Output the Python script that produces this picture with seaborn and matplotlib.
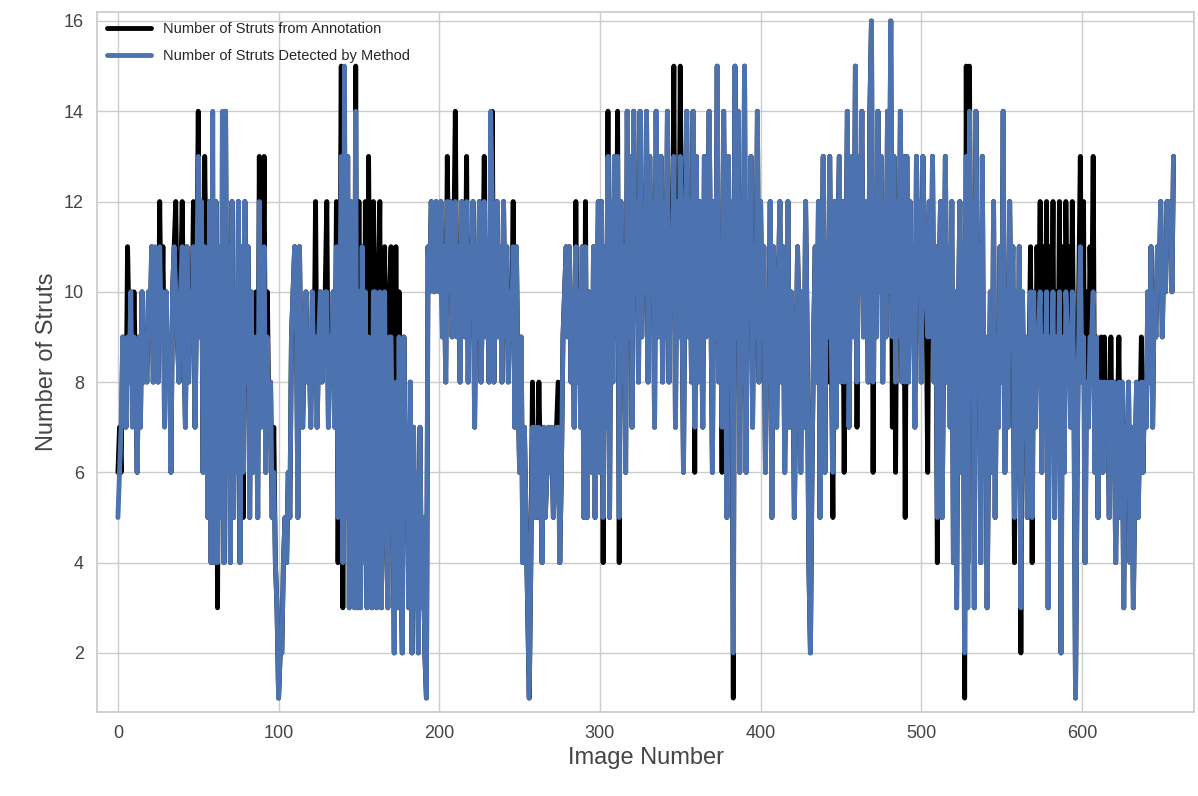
import matplotlib
matplotlib.use("Agg")
import matplotlib.pyplot as plt
import numpy as np
import pandas as pd
import seaborn as sns

# struts per image in blocks of 10 images
annotation = [
    6, 7, 6, 9, 8, 7, 11, 9, 10, 8,
    10, 8, 6, 9, 7, 10, 8, 9, 8, 10,
    9, 11, 8, 10, 9, 8, 12, 9, 11, 8,
    10, 8, 9, 6, 10, 11, 12, 9, 8, 10,
    12, 9, 7, 11, 8, 10, 9, 12, 7, 10,
    14, 9, 12, 6, 13, 10, 5, 12, 4, 11,
    4, 12, 3, 11, 5, 10, 4, 14, 6, 11,
    4, 12, 5, 10, 6, 12, 4, 11, 5, 12,
    8, 11, 5, 10, 6, 9, 10, 5, 13, 7,
    9, 13, 6, 10, 7, 8, 5, 7, 4, 3,
    1, 2, 2, 4, 5, 4, 6, 5, 9, 10,
    11, 10, 5, 11, 8, 7, 9, 10, 8, 9,
    7, 10, 8, 12, 7, 9, 10, 8, 9, 10,
    12, 7, 9, 8, 10, 7, 12, 4, 9, 15,
    3, 14, 5, 13, 3, 12, 11, 4, 15, 3,
    12, 3, 11, 4, 12, 3, 13, 8, 3, 12,
    10, 3, 9, 12, 3, 8, 11, 5, 3, 10,
    11, 6, 2, 11, 3, 10, 4, 2, 9, 5,
    7, 3, 8, 2, 7, 3, 6, 2, 7, 3,
    5, 2, 1, 11, 10, 12, 11, 10, 12, 11,
    10, 12, 9, 11, 8, 13, 10, 12, 9, 11,
    14, 9, 11, 8, 12, 10, 9, 13, 8, 11,
    10, 12, 7, 11, 9, 12, 8, 10, 13, 9,
    11, 8, 12, 14, 8, 10, 12, 9, 11, 8,
    12, 9, 11, 8, 10, 9, 12, 7, 11, 8,
    6, 9, 4, 7, 5, 3, 1, 4, 8, 5,
    7, 5, 8, 6, 4, 7, 5, 6, 7, 6,
    7, 5, 6, 7, 8, 4, 6, 9, 10, 11,
    9, 11, 8, 10, 7, 12, 8, 10, 7, 11,
    5, 12, 5, 10, 8, 6, 11, 5, 9, 12,
    6, 12, 4, 11, 7, 14, 5, 12, 8, 13,
    9, 14, 4, 12, 8, 11, 6, 14, 9, 13,
    7, 14, 10, 12, 8, 14, 9, 11, 10, 14,
    8, 13, 10, 12, 7, 14, 9, 11, 13, 8,
    12, 9, 14, 8, 11, 10, 15, 7, 12, 9,
    15, 10, 6, 11, 14, 9, 12, 8, 14, 6,
    13, 8, 12, 10, 7, 13, 9, 11, 14, 10,
    6, 12, 9, 15, 8, 11, 6, 14, 10, 5,
    13, 8, 12, 1, 15, 9, 14, 6, 12, 8,
    15, 6, 12, 10, 13, 7, 11, 9, 14, 8,
    12, 9, 11, 6, 10, 8, 12, 5, 11, 9,
    7, 10, 12, 8, 11, 6, 9, 12, 7, 10,
    9, 5, 8, 11, 9, 6, 10, 7, 12, 9,
    4, 2, 6, 9, 11, 8, 12, 5, 10, 13,
    6, 11, 8, 13, 9, 5, 12, 7, 11, 13,
    8, 12, 6, 10, 14, 7, 11, 13, 9, 15,
    7, 13, 10, 14, 9, 12, 11, 8, 14, 16,
    6, 12, 9, 14, 10, 13, 8, 12, 9, 14,
    10, 16, 7, 13, 6, 12, 9, 14, 8, 13,
    5, 13, 8, 12, 9, 11, 7, 13, 10, 12,
    8, 13, 11, 10, 6, 12, 9, 13, 8, 11,
    4, 10, 12, 5, 9, 13, 8, 11, 7, 12,
    4, 10, 3, 9, 12, 6, 11, 1, 15, 4,
    15, 8, 12, 3, 14, 9, 11, 4, 13, 6,
    9, 3, 7, 10, 6, 12, 5, 9, 7, 11,
    8, 14, 6, 10, 7, 12, 9, 11, 4, 10,
    6, 11, 2, 10, 7, 9, 5, 8, 11, 4,
    10, 7, 11, 9, 12, 6, 11, 8, 12, 3,
    11, 8, 12, 5, 10, 7, 12, 2, 11, 6,
    12, 9, 11, 7, 12, 8, 1, 6, 10, 13,
    8, 12, 4, 10, 7, 11, 9, 13, 6, 9,
    5, 8, 9, 6, 9, 7, 8, 5, 9, 6,
    8, 4, 7, 9, 5, 8, 3, 7, 6, 8,
    4, 7, 3, 6, 8, 5, 7, 9, 6, 8,
    7, 10, 8, 11, 7, 10, 9, 11, 10, 12,
    9, 11, 10, 12, 11, 12, 10, 13,
]

detected = [
    5, 6, 7, 9, 8, 7, 9, 8, 10, 7,
    9, 8, 6, 9, 7, 10, 8, 9, 8, 10,
    9, 11, 8, 11, 9, 8, 11, 9, 10, 7,
    10, 8, 9, 6, 10, 11, 10, 9, 8, 10,
    11, 9, 7, 11, 8, 10, 9, 11, 7, 10,
    13, 9, 12, 6, 11, 10, 5, 12, 4, 14,
    4, 12, 4, 11, 5, 14, 4, 14, 6, 11,
    4, 12, 5, 10, 6, 12, 4, 11, 6, 12,
    8, 11, 5, 10, 6, 9, 8, 5, 12, 7,
    9, 11, 6, 9, 7, 8, 5, 6, 4, 3,
    1, 2, 2, 4, 5, 4, 6, 5, 9, 10,
    11, 10, 5, 11, 8, 7, 9, 10, 8, 9,
    7, 10, 8, 9, 7, 9, 10, 8, 9, 10,
    10, 7, 9, 8, 10, 7, 11, 5, 9, 13,
    4, 15, 5, 13, 3, 12, 11, 3, 14, 3,
    10, 3, 11, 4, 10, 3, 9, 8, 3, 10,
    10, 3, 9, 10, 3, 8, 10, 5, 3, 9,
    9, 6, 2, 8, 3, 9, 4, 2, 9, 5,
    7, 3, 8, 2, 7, 3, 6, 2, 7, 3,
    5, 2, 1, 11, 10, 12, 11, 10, 12, 11,
    10, 12, 9, 11, 8, 12, 10, 12, 9, 11,
    12, 9, 11, 8, 12, 10, 9, 12, 8, 11,
    10, 12, 7, 11, 9, 12, 8, 10, 12, 9,
    11, 8, 14, 12, 8, 10, 12, 9, 11, 8,
    12, 9, 11, 8, 10, 9, 11, 7, 11, 8,
    6, 9, 4, 7, 5, 3, 1, 4, 7, 5,
    7, 5, 7, 6, 4, 7, 5, 6, 7, 6,
    7, 5, 6, 7, 7, 4, 6, 9, 10, 11,
    9, 11, 8, 10, 7, 11, 8, 10, 7, 11,
    5, 11, 5, 10, 8, 6, 11, 5, 9, 12,
    6, 12, 5, 11, 7, 13, 5, 12, 8, 13,
    9, 13, 5, 12, 8, 11, 6, 14, 9, 13,
    7, 14, 10, 12, 8, 14, 9, 11, 10, 14,
    8, 13, 10, 12, 7, 14, 9, 11, 13, 8,
    12, 9, 14, 8, 11, 10, 13, 7, 12, 9,
    13, 10, 6, 11, 14, 9, 12, 8, 14, 7,
    13, 8, 12, 10, 7, 13, 9, 11, 14, 10,
    6, 12, 9, 15, 8, 11, 7, 14, 10, 5,
    13, 8, 12, 2, 15, 9, 14, 6, 12, 8,
    15, 6, 12, 10, 13, 7, 11, 9, 14, 8,
    12, 9, 11, 6, 10, 8, 12, 5, 11, 9,
    7, 10, 12, 8, 11, 6, 9, 12, 7, 10,
    9, 5, 8, 11, 9, 6, 10, 7, 12, 9,
    4, 2, 6, 9, 11, 8, 12, 5, 10, 13,
    6, 11, 9, 13, 9, 6, 12, 7, 11, 13,
    8, 12, 8, 10, 14, 7, 11, 13, 9, 15,
    8, 13, 10, 14, 9, 12, 11, 8, 14, 16,
    8, 12, 9, 14, 10, 13, 8, 12, 9, 14,
    10, 16, 9, 13, 8, 12, 9, 14, 8, 13,
    8, 13, 8, 12, 9, 11, 7, 13, 10, 12,
    8, 13, 11, 10, 9, 12, 9, 13, 8, 11,
    5, 10, 12, 5, 9, 13, 8, 11, 7, 12,
    4, 10, 3, 9, 12, 6, 11, 2, 13, 3,
    14, 8, 12, 3, 14, 9, 11, 4, 13, 6,
    9, 3, 7, 10, 6, 12, 5, 9, 7, 11,
    8, 14, 6, 10, 7, 12, 9, 11, 5, 10,
    6, 11, 3, 10, 7, 9, 5, 8, 10, 5,
    10, 7, 9, 9, 10, 6, 9, 8, 10, 3,
    9, 8, 10, 5, 9, 7, 10, 2, 9, 6,
    10, 9, 9, 7, 10, 8, 1, 6, 9, 11,
    8, 9, 4, 8, 7, 9, 9, 10, 6, 9,
    5, 8, 8, 6, 8, 7, 8, 5, 8, 6,
    8, 4, 7, 8, 5, 8, 3, 7, 6, 8,
    4, 7, 3, 6, 8, 5, 7, 8, 6, 8,
    7, 10, 8, 11, 7, 10, 9, 11, 10, 12,
    9, 11, 10, 12, 11, 12, 10, 13,
]

image_number = np.arange(len(annotation))

sns.set_theme(style="whitegrid")
plt.rcParams['font.family'] = ['Liberation Sans', 'DejaVu Sans']

df = pd.DataFrame({"image": image_number, "annotation": annotation,
                   "detected": detected})

fig = plt.figure(figsize=(11.98, 7.96), dpi=100)
ax = fig.add_axes([0.081, 0.106, 0.916, 0.879])

sns.lineplot(data=df, x="image", y="annotation", color="black", lw=3.5,
             label="Number of Struts from Annotation", ax=ax)
sns.lineplot(data=df, x="image", y="detected", color="#4C72B0", lw=3.5,
             label="Number of Struts Detected by Method", ax=ax)

ax.set_xlim(-13, 670)
ax.set_ylim(0.7, 16.2)
ax.set_xticks(range(0, 601, 100))
ax.set_yticks(range(2, 17, 2))
ax.tick_params(labelsize=13, colors="#444444")
ax.set_xlabel("Image Number", fontsize=17, color="#444444")
ax.set_ylabel("Number of Struts", fontsize=17, color="#444444")
ax.legend(loc="upper left", frameon=False, fontsize=10.5, handlelength=3,
          labelspacing=0.9, borderaxespad=0.3)

fig.savefig("out.png", dpi=100)
